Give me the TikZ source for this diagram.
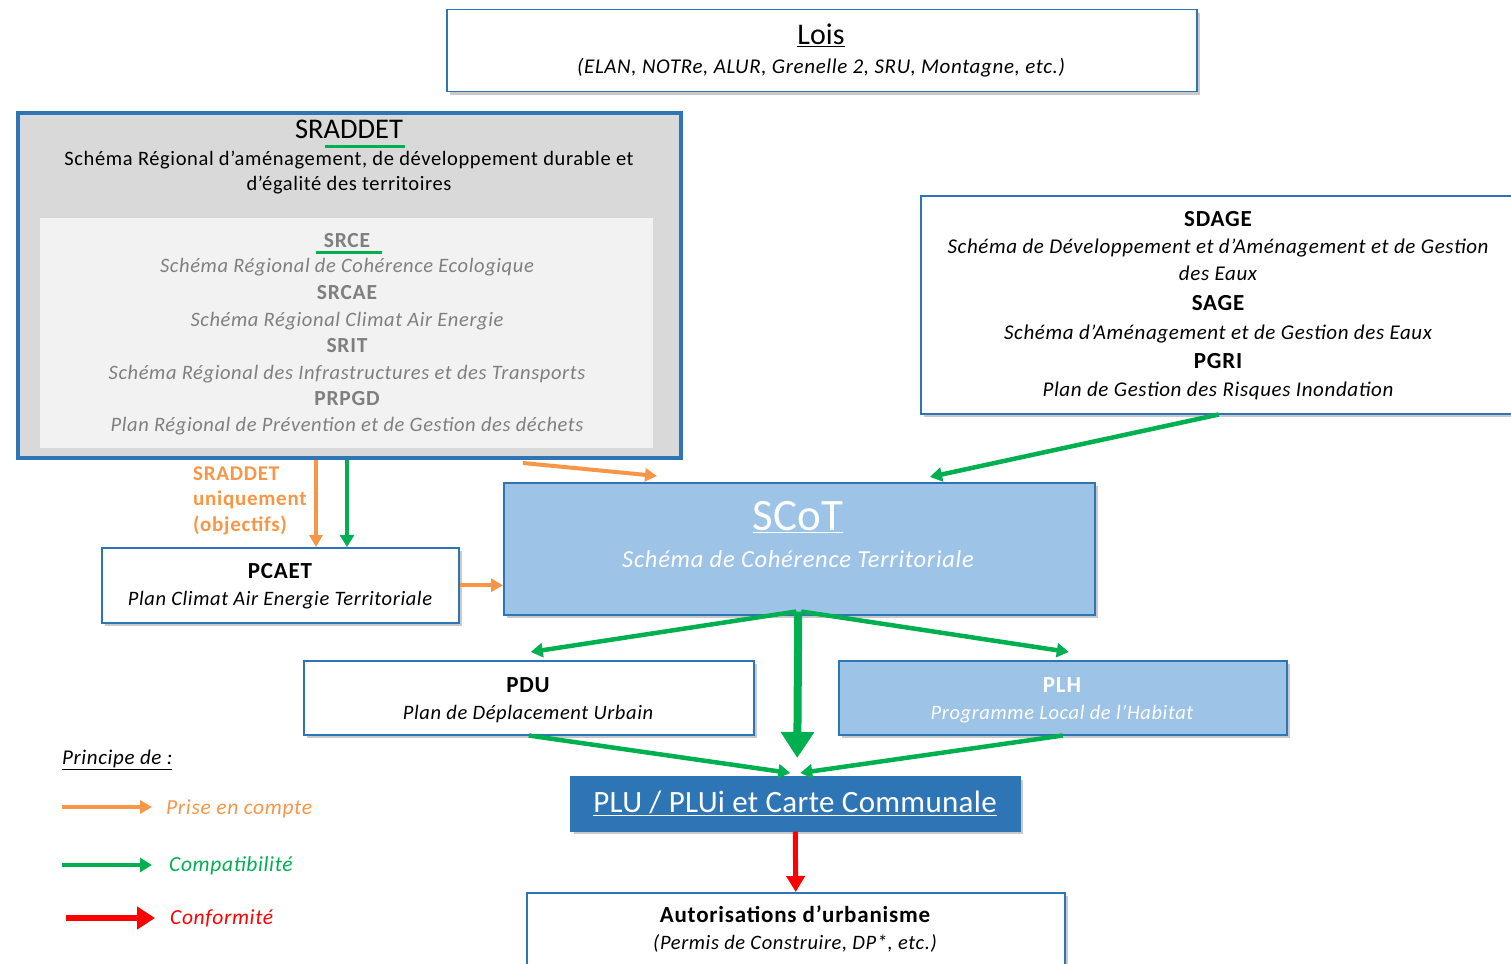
\documentclass[tikz,border=0pt]{standalone}
\usepackage{fontspec}
\setmainfont{Carlito}
\usetikzlibrary{arrows.meta,shadows,calc}

\definecolor{boxblue}{HTML}{2E75B6}
\definecolor{lightblue}{HTML}{9DC3E6}
\definecolor{outergray}{HTML}{D9D9D9}
\definecolor{innergray}{HTML}{F2F2F2}
\definecolor{textgray}{HTML}{7F7F7F}
\definecolor{orangearr}{HTML}{F79646}
\definecolor{greenarr}{HTML}{00B050}
\definecolor{redarr}{HTML}{FF0000}

\begin{document}
\begin{tikzpicture}[x=1pt,y=-1pt,
  box/.style={draw=boxblue, line width=1.5pt, fill=white, inner sep=0pt, anchor=north west,
    drop shadow={shadow xshift=3pt, shadow yshift=-3pt, opacity=0.3, fill=black!70}},
  txt/.style={anchor=base, inner sep=0pt, font=\fontsize{#1}{#1}\selectfont},
  txt/.default=19,
  wtxt/.style={anchor=base, inner sep=0pt, font=\fontsize{#1}{#1}\selectfont\addfontfeature{LetterSpace=3}},
  wtxt/.default=20.5,
  ttl/.style={anchor=base, inner sep=0pt, font=\fontsize{#1}{#1}\selectfont\bfseries\addfontfeature{LetterSpace=3.5}},
  ttl/.default=23,
  itl/.style={anchor=base, inner sep=0pt, font=\fontsize{#1}{#1}\selectfont\itshape\addfontfeature{LetterSpace=3}},
  itl/.default=20.5,
  oarr/.style={draw=orangearr, line width=4pt, -{Triangle[length=12pt, width=13pt]}},
  garr/.style={draw=greenarr, line width=4.5pt, -{Triangle[length=12pt, width=14pt]}},
  bigarr/.style={draw=greenarr, line width=8pt, -{Triangle[length=26pt, width=32pt]}},
  rarr/.style={draw=redarr, line width=5pt, -{Triangle[length=16pt, width=18pt]}},
]
\useasboundingbox (0,0) rectangle (1511,963);
\clip (0,0) rectangle (1511,963);

% ---------- Lois ----------
\node[box, minimum width=750pt, minimum height=82pt] (lois) at (446,9) {};
\node[txt=30] (loisT) at (821,45) {\underline{Lois}};
\node[itl=21] (loisS) at (821,74) {(ELAN, NOTRe, ALUR, Grenelle 2, SRU, Montagne, etc.)};

% ---------- SRADDET ----------
\node[draw=boxblue, line width=4pt, fill=outergray, inner sep=0pt, anchor=north west,
  minimum width=663pt, minimum height=345pt] (sraddet) at (16,111) {};
\node[fill=innergray, inner sep=0pt, anchor=north west,
  minimum width=613pt, minimum height=230pt] (inner) at (40,218) {};
\node[txt=28.5] (sradT) at (349,138) {SRADDET};
\draw[greenarr, line width=3pt] (325,146) -- (405,146);
\node[wtxt] (sradS1) at (349,165.5) {Schéma Régional d’aménagement, de développement durable et};
\node[wtxt] (sradS2) at (349,190.5) {d’égalité des territoires};

\node[ttl=21.5, textgray] (srce) at (347,247) {SRCE};
\draw[greenarr, line width=3pt] (316,252) -- (382,252);
\node[itl=20.5, textgray] (srceS) at (347,272.5) {Schéma Régional de Cohérence Ecologique};
\node[ttl=21.5, textgray] (srcae) at (347,299.5) {SRCAE};
\node[itl=20.5, textgray] (srcaeS) at (347,326.5) {Schéma Régional Climat Air Energie};
\node[ttl=21.5, textgray] (srit) at (347,352.5) {SRIT};
\node[itl=20.5, textgray] (sritS) at (347,379.5) {Schéma Régional des Infrastructures et des Transports};
\node[ttl=21.5, textgray] (prpgd) at (347,405.5) {PRPGD};
\node[itl=20.5, textgray] (prpgdS) at (347,431.5) {Plan Régional de Prévention et de Gestion des déchets};

% ---------- SDAGE / SAGE / PGRI ----------
\node[box, minimum width=596pt, minimum height=218pt] (sdage) at (920,195) {};
\node[ttl] (sdageT) at (1218,226.5) {SDAGE};
\node[itl=21] (sdageS1) at (1218,253) {Schéma de Développement et d’Aménagement et de Gestion};
\node[itl=21] (sdageS2) at (1218,280) {des Eaux};
\node[ttl] (sageT) at (1218,310.5) {SAGE};
\node[itl=21] (sageS) at (1218,339) {Schéma d’Aménagement et de Gestion des Eaux};
\node[ttl] (pgriT) at (1218,368.5) {PGRI};
\node[itl=21] (pgriS) at (1218,396) {Plan de Gestion des Risques Inondation};

% ---------- SCoT ----------
\node[box, fill=lightblue, minimum width=591pt, minimum height=132pt] (scot) at (503,482) {};
\node[txt=45, white] (scotT) at (798,530) {\underline{SCoT}};
\node[itl=24.5, white] (scotS) at (798,567) {Schéma de Cohérence Territoriale};

% ---------- PCAET ----------
\node[box, minimum width=357pt, minimum height=75pt, drop shadow={opacity=0}] (pcaet) at (101,547) {};
\node[ttl] (pcaetT) at (280,578) {PCAET};
\node[itl=20.5] (pcaetS) at (280,605) {Plan Climat Air Energie Territoriale};

% ---------- PDU / PLH ----------
\node[box, minimum width=450pt, minimum height=74pt] (pdu) at (303,660) {};
\node[ttl] (pduT) at (528,692) {PDU};
\node[itl] (pduS) at (528,719) {Plan de Déplacement Urbain};

\node[box, fill=lightblue, minimum width=448pt, minimum height=74pt] (plh) at (838,660) {};
\node[ttl, white] (plhT) at (1062,692) {PLH};
\node[itl, white] (plhS) at (1062,719) {Programme Local de l’Habitat};

% ---------- PLU ----------
\node[box, fill=boxblue, minimum width=449pt, minimum height=54pt] (plu) at (570,776) {};
\node[txt=31, white, font=\fontsize{31}{31}\selectfont\addfontfeature{LetterSpace=1}] (pluT) at (795,812) {\underline{PLU / PLUi et Carte Communale}};

% ---------- Autorisations ----------
\node[box, minimum width=538pt, minimum height=90pt] (autor) at (526,892) {};
\node[ttl] (autorT) at (795,922) {Autorisations d’urbanisme};
\node[itl] (autorS) at (795,949) {(Permis de Construire, DP*, etc.)};

% ---------- Connectors ----------
\coordinate (sOut1) at ($(sraddet.south west)+(300,0)$);
\coordinate (sOut2) at ($(sraddet.south west)+(331,0)$);
\coordinate (sOut3) at ($(sraddet.south west)+(507,3)$);
\draw[oarr] (sOut1) -- (sOut1 |- pcaet.north);
\draw[garr] (sOut2) -- (sOut2 |- pcaet.north);
\draw[oarr] (sOut3) -- ($(scot.north west)+(154,-6)$);
\draw[oarr] (pcaet.east) -- (pcaet.east -| scot.west);
\node[ttl=21, orangearr, anchor=base west] (oLab1) at (193,480.5) {SRADDET};
\node[ttl=21, orangearr, anchor=base west] (oLab2) at (193,505.5) {uniquement};
\node[ttl=21, orangearr, anchor=base west] (oLab3) at (193,531.5) {(objectifs)};

\draw[garr] (sdage.south) -- ($(scot.north west)+(427,-5)$);

\coordinate (scotB) at ($(scot.south)+(-3,-4)$);
\draw[garr] (scotB) -- ($(pdu.north)+(2,-8)$);
\draw[garr] ($(scotB)+(5,0)$) -- ($(plh.north)+(6,-8)$);
\draw[bigarr] ($(scotB)+(2,0)$) -- ($(plu.north)+(2,-18)$);

\draw[garr] (pdu.south) -- ($(plu.north)+(-5,-3)$);
\draw[garr] (plh.south) -- ($(plu.north)+(5,-3)$);

\draw[rarr] (plu.south) -- (autor.north);

% ---------- Legend ----------
\node[itl=21, anchor=base west] (legT) at (62,764.5) {\underline{Principe de :}};
\coordinate (lo1) at (62,807);  \coordinate (lo2) at (152,807);
\coordinate (lg1) at (62,865);  \coordinate (lg2) at (152,865);
\coordinate (lr1) at (66,918);  \coordinate (lr2) at (155,918);
\draw[oarr] (lo1) -- (lo2);
\draw[garr] (lg1) -- (lg2);
\draw[rarr, line width=6pt, -{Triangle[length=18pt, width=22pt]}] (lr1) -- (lr2);
\node[itl=21.5, orangearr, anchor=base west] (legO) at (166,814) {Prise en compte};
\node[itl=21.5, greenarr, anchor=base west] (legG) at (169,871.5) {Compatibilité};
\node[itl=21.5, redarr, anchor=base west] (legR) at (170,924.5) {Conformité};
\end{tikzpicture}
\end{document}
